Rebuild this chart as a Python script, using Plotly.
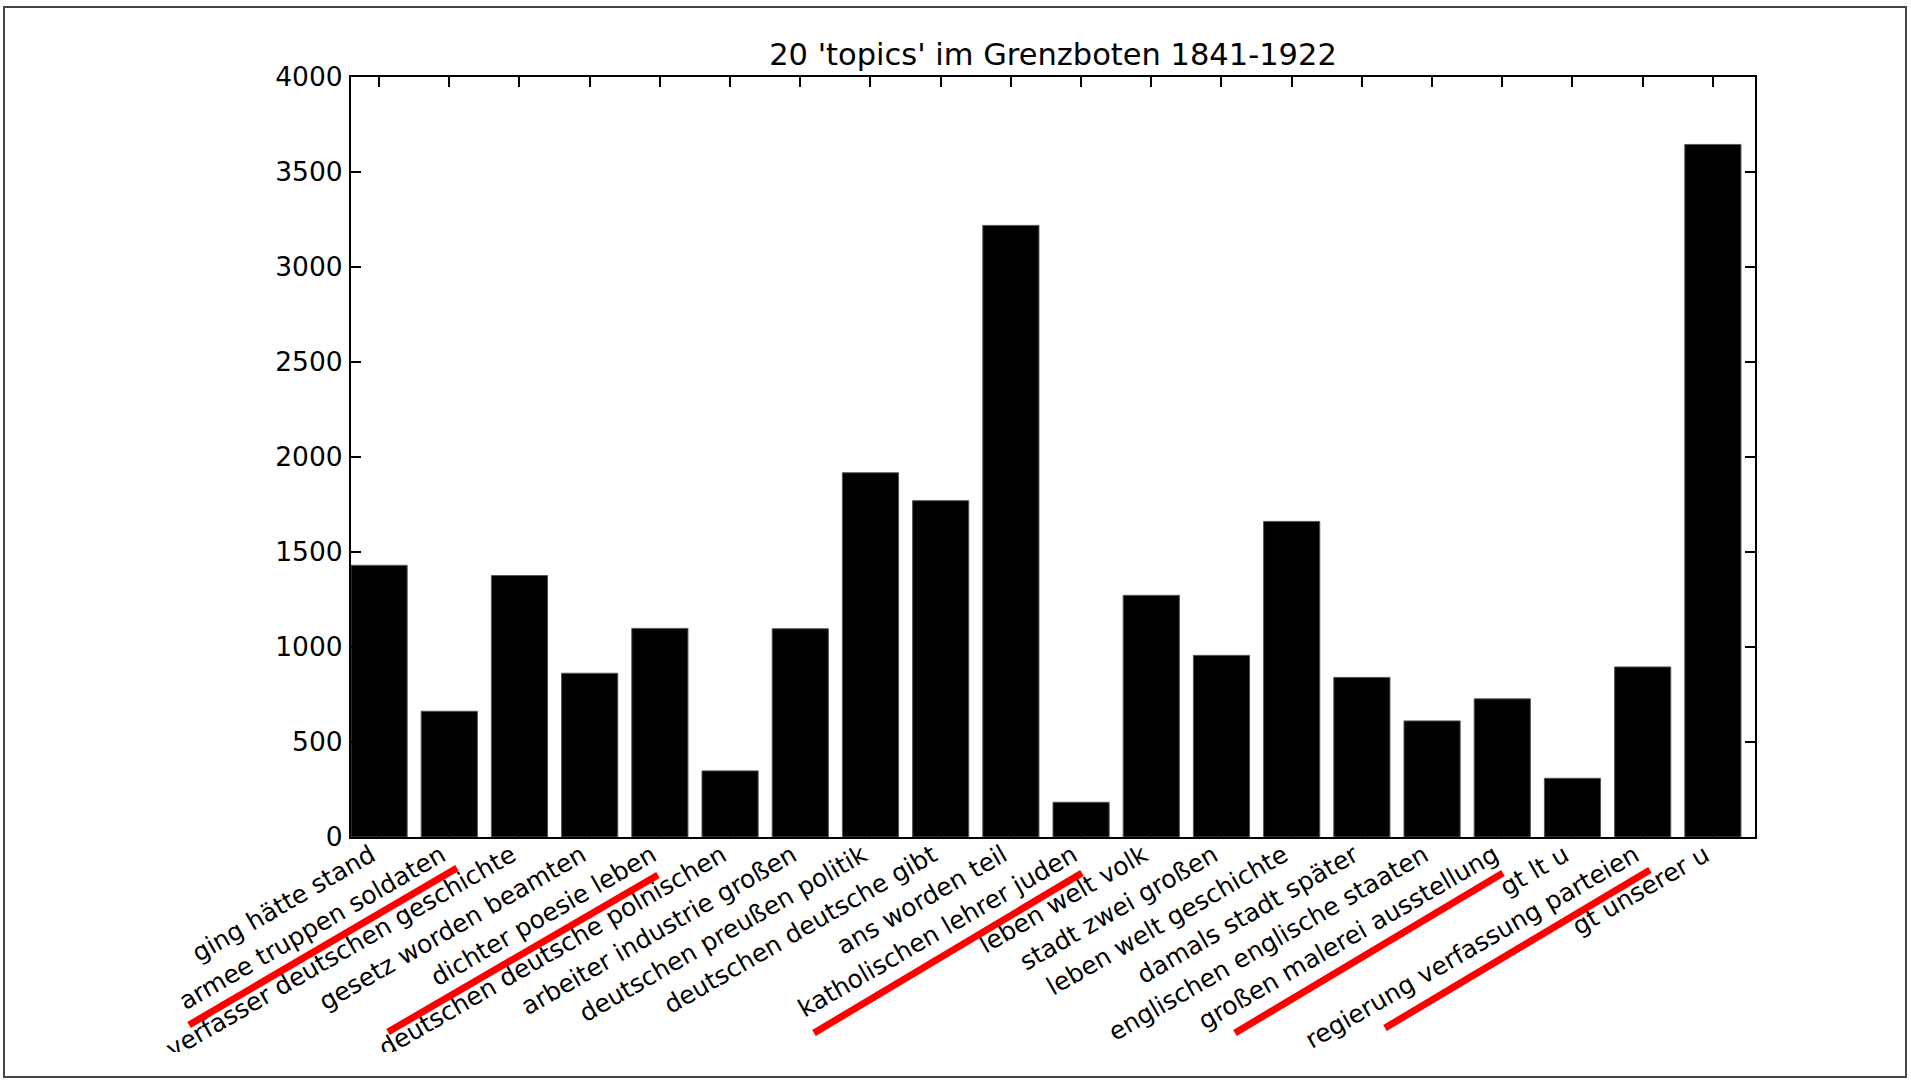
import plotly.graph_objects as go

# ---- data ----
topics = [
    "ging hätte stand", "armee truppen soldaten", "verfasser deutschen geschichte",
    "gesetz worden beamten", "dichter poesie leben", "deutschen deutsche polnischen",
    "arbeiter industrie großen", "deutschen preußen politik", "deutschen deutsche gibt",
    "ans worden teil", "katholischen lehrer juden", "leben welt volk",
    "stadt zwei großen", "leben welt geschichte", "damals stadt später",
    "englischen englische staaten", "großen malerei ausstellung", "gt lt u",
    "regierung verfassung parteien", "gt unserer u",
]
counts = [1430, 662, 1376, 862, 1098, 348, 1096, 1917, 1770, 3219,
          183, 1272, 956, 1661, 840, 611, 727, 309, 895, 3645]
y_ticks = [0, 500, 1000, 1500, 2000, 2500, 3000, 3500, 4000]
title_text = "20 'topics' im Grenzboten 1841-1922"

# ---- layout geometry (pixels) ----
W, H = 1911, 1081
L, R, T, B = 351, 1755, 77, 837

def px(X):
    return (X - L) / (R - L)

def py(Y):
    return (B - Y) / (B - T)

FONT = "DejaVu Sans"

fig = go.Figure(go.Bar(
    x=topics, y=counts, width=0.8,
    marker=dict(color="black", line=dict(color="#555555", width=1)),
))

# red underline strokes (annotations over the labels), pixel endpoints
red_lines = [
    (189, 1025, 457, 868),
    (388, 1032, 658, 875),
    (814, 1033, 1082, 873),
    (1235, 1033, 1503, 873),
    (1385, 1028, 1650, 870),
]
shapes = [
    # clip band at the bottom (labels cut off in original)
    dict(type="rect", xref="paper", yref="paper", layer="above",
         x0=px(0), x1=px(W), y0=py(1052), y1=py(1081),
         fillcolor="white", line=dict(width=0)),
]
for x0, y0, x1, y1 in red_lines:
    shapes.append(dict(type="line", xref="paper", yref="paper", layer="above",
                       x0=px(x0), y0=py(y0), x1=px(x1), y1=py(y1),
                       line=dict(color="#ff0000", width=7)))
shapes.append(dict(type="rect", xref="paper", yref="paper", layer="above",
                   x0=px(4), x1=px(1906), y0=py(7), y1=py(1077),
                   line=dict(color="#444444", width=2)))

fig.update_layout(
    width=W, height=H, autosize=False,
    paper_bgcolor="white", plot_bgcolor="white",
    margin=dict(l=L, r=W - R, t=T, b=H - B, autoexpand=False, pad=0),
    showlegend=False,
    font=dict(family=FONT, color="black", size=26),
    title=dict(text=title_text, x=0.5, xref="paper", xanchor="center",
               y=1 - 54 / H, yref="container", yanchor="middle",
               font=dict(family=FONT, size=30.5, color="black")),
    bargap=0.2,
    shapes=shapes,
)
fig.update_xaxes(
    type="category", range=[-0.4, 19.6], automargin=False,
    showline=True, linecolor="black", linewidth=2, mirror="allticks",
    ticks="inside", ticklen=10, tickwidth=1.5, tickcolor="black",
    tickangle=-30, tickfont=dict(family=FONT, size=25, color="black"),
    ticklabelstandoff=-8, ticklabelshift=-8,
    showgrid=False, zeroline=False,
)
fig.update_yaxes(
    range=[0, 4000], tickvals=y_ticks, automargin=False,
    showline=True, linecolor="black", linewidth=2, mirror="allticks",
    ticks="inside", ticklen=10, tickwidth=1.5, tickcolor="black",
    tickfont=dict(family=FONT, size=26.5, color="black"), ticklabelstandoff=1,
    showgrid=False, zeroline=False,
)

fig.write_html(
    "out.html",
    config={"displayModeBar": False},
    post_script="document.body.style.margin='0';document.body.style.overflow='hidden';",
)
